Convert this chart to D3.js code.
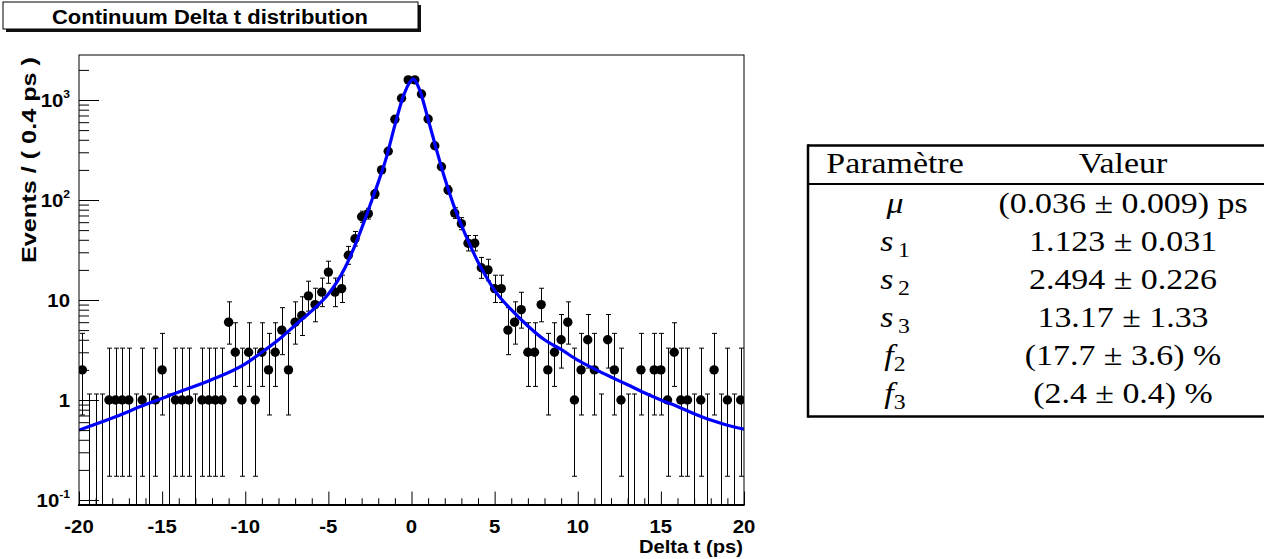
<!DOCTYPE html>
<html><head><meta charset="utf-8">
<script src="https://cdn.jsdelivr.net/npm/d3@7"></script>
<style>body{margin:0;background:#fff;} svg{display:block;}</style>
</head><body>
<svg id="chart" width="1264" height="559"></svg>
<script>
// ---------------- data ----------------
const binCenters = [
 -19.8,-19.4,-19.0,-18.6,-18.2,-17.8,-17.4,-17.0,-16.6,-16.2,
 -15.8,-15.4,-15.0,-14.6,-14.2,-13.8,-13.4,-13.0,-12.6,-12.2,
 -11.8,-11.4,-11.0,-10.6,-10.2,-9.8,-9.4,-9.0,-8.6,-8.2,
 -7.8,-7.4,-7.0,-6.6,-6.2,-5.8,-5.4,-5.0,-4.6,-4.2,
 -3.8,-3.4,-3.0,-2.6,-2.2,-1.8,-1.4,-1.0,-0.6,-0.2,
 0.2,0.6,1.0,1.4,1.8,2.2,2.6,3.0,3.4,3.8,
 4.2,4.6,5.0,5.4,5.8,6.2,6.6,7.0,7.4,7.8,
 8.2,8.6,9.0,9.4,9.8,10.2,10.6,11.0,11.4,11.8,
 12.2,12.6,13.0,13.4,13.8,14.2,14.6,15.0,15.4,15.8,
 16.2,16.6,17.0,17.4,17.8,18.2,18.6,19.0,19.4,19.8];
const counts = [
 2,0,0,0,1,1,1,1,0,1,
 0,1,2,0,1,1,1,0,1,1,
 1,1,6,3,1,3,1,3,2,3,
 5,2,6,7,11,9,12,19,12,13,
 28,41,68,73,115,200,307,641,1040,1590,
 1590,1148,646,349,215,126,74,58,37,37,
 21,20,13,13,5,6,8,3,3,9,
 2,3,4,6,1,2,4,2,0,4,
 2,1,0,0,2,0,2,2,1,3,
 1,1,0,1,0,2,0,1,0,1];
// fitted PDF projection
const curveX = [-20,-18,-16,-14,-12,-10,-9,-8,-7,-6,-5,-4.5,-4,-3.5,-3,-2.5,-2,-1.5,-1,-0.5,0,0.1,0.5,1,1.5,2,2.5,3,3.5,4,4.5,5,6,7,8,9,10,11,12,13,14,15,16,17,18,19,20];
const curveY = [0.50,0.66,0.90,1.2,1.6,2.3,3.0,4.0,5.6,7.8,11.5,15,21,32,52,88,150,270,560,1080,1580,1620,1250,640,320,165,92,56,36,24,17,12.5,8,5.5,4.0,3.2,2.5,2.05,1.7,1.42,1.18,1.0,0.86,0.73,0.63,0.56,0.51];

const xMajorTicks = [-20,-15,-10,-5,0,5,10,15,20];
const xTickLabels = ["-20","-15","-10","-5","0","5","10","15","20"];
const yMajorTicks = [0.1,1,10,100,1000];
const yTickBase = ["10","1","10","10","10"];
const yTickExp = ["-1","","","2","3"];

const title = "Continuum Delta t distribution";
const xTitle = "Delta t (ps)";
const yTitle = "Events / ( 0.4 ps )";

const tableHeader = ["Paramètre","Valeur"];
const paramSymbols = ["μ","s","s","s","f","f"];
const paramSubs = ["","1","2","3","2","3"];
const paramValues = ["(0.036 ± 0.009) ps","1.123 ± 0.031","2.494 ± 0.226","13.17 ± 1.33","(17.7 ± 3.6) %","(2.4 ± 0.4) %"];

// ---------------- layout ----------------
const svg = d3.select("#chart");
const L = 79, R = 744, T = 55, B = 505;
const x = d3.scaleLinear().domain([-20, 20]).range([L, R]);
const y = d3.scaleLog().domain([Math.pow(10,-1.05), Math.pow(10,3.45)]).range([B, T]);
const sansB = "'Liberation Sans', Arial, Helvetica, sans-serif";
const serif = "'Liberation Serif', 'Times New Roman', serif";
const SX = 1.1;   // horizontal glyph stretch of the original sans labels
const TSX = 1.13; // horizontal stretch for table text

// Poisson (Garwood) 68% interval used for error bars
function lgam(z){const g=7,c=[0.99999999999980993,676.5203681218851,-1259.1392167224028,771.32342877765313,-176.61502916214059,12.507343278686905,-0.13857109526572012,9.9843695780195716e-6,1.5056327351493116e-7];
 z-=1;let a=c[0];const t=z+g+0.5;for(let i=1;i<9;i++)a+=c[i]/(z+i);return 0.5*Math.log(2*Math.PI)+(z+0.5)*Math.log(t)-t+Math.log(a);}
function pcdf(n,mu){if(n<0)return 0;let s=0;const lm=Math.log(mu);for(let k=0;k<=n;k++)s+=Math.exp(k*lm-mu-lgam(k+1));return s;}
const alpha=0.158655;
function interval(n){
  if(n===0) return [0,1.148];
  let lo=0,hi=n; for(let i=0;i<60;i++){const m=(lo+hi)/2; if(pcdf(n-1,m)>1-alpha) lo=m; else hi=m;} const low=(lo+hi)/2;
  lo=n;hi=n+10*Math.sqrt(n+1)+10; for(let i=0;i<60;i++){const m=(lo+hi)/2; if(pcdf(n,m)>alpha) lo=m; else hi=m;} const up=(lo+hi)/2;
  return [low,up];
}
const pts = binCenters.map((c,i)=>{const [lo,hi]=interval(counts[i]);return {x:c,n:counts[i],lo,hi};});

// ---------------- title box ----------------
svg.append("rect").attr("x",6).attr("y",5).attr("width",415).attr("height",27).attr("fill","#111");
svg.append("rect").attr("x",3).attr("y",2).attr("width",415).attr("height",27).attr("fill","#fff").attr("stroke","#000").attr("stroke-width",1);
svg.append("text").attr("x",52).attr("y",24)
  .attr("font-family",sansB).attr("font-weight","bold").attr("font-size",19.5)
  .attr("textLength",316).attr("lengthAdjust","spacingAndGlyphs").attr("fill","#000").text(title);

// ---------------- plot ----------------
svg.append("defs").append("clipPath").attr("id","clip").append("rect")
  .attr("x",L).attr("y",T).attr("width",R-L).attr("height",B-T);
const plot = svg.append("g").attr("clip-path","url(#clip)");

// error bars
const eb = plot.append("g").attr("stroke","#000").attr("stroke-width",1);
pts.forEach(p=>{
  const px = Math.round(x(p.x))+0.5;
  const yTop = y(p.hi);
  const yBot = p.lo>0 ? y(p.lo) : B+5;
  eb.append("line").attr("x1",px).attr("x2",px).attr("y1",yTop).attr("y2",yBot);
  eb.append("line").attr("x1",px-2.5).attr("x2",px+2.5).attr("y1",yTop).attr("y2",yTop);
  if(p.lo>0) eb.append("line").attr("x1",px-2.5).attr("x2",px+2.5).attr("y1",yBot).attr("y2",yBot);
});
// markers
plot.append("g").selectAll("circle").data(pts.filter(p=>p.n>0)).join("circle")
  .attr("cx",d=>x(d.x)).attr("cy",d=>y(d.n)).attr("r",4.7).attr("fill","#000");
// curve
const curveData = curveX.map((v,i)=>[v,curveY[i]]);
plot.append("path").datum(curveData)
  .attr("d", d3.line().x(d=>x(d[0])).y(d=>y(d[1])).curve(d3.curveMonotoneX))
  .attr("fill","none").attr("stroke","#0000ff").attr("stroke-width",3.2);

// frame
svg.append("rect").attr("x",L).attr("y",T).attr("width",R-L).attr("height",B-T)
  .attr("fill","none").attr("stroke","#000").attr("stroke-width",1);
svg.append("line").attr("x1",L-1).attr("x2",R+0.5).attr("y1",B).attr("y2",B).attr("stroke","#000").attr("stroke-width",2);

// x axis ticks
const xMinor = d3.range(-20,21,1).filter(v=>v%5!==0);
const gx = svg.append("g").attr("transform",`translate(0,${B})`);
gx.call(d3.axisBottom(x).tickValues(xMajorTicks).tickSize(-13.5).tickFormat(""));
gx.append("g").call(d3.axisBottom(x).tickValues(xMinor).tickSize(-6.75).tickFormat(""));
gx.selectAll(".domain").remove();
gx.selectAll("line").attr("stroke","#000");
svg.append("g").selectAll("text").data(xMajorTicks).join("text")
  .attr("transform",d=>`translate(${x(d)},532.5) scale(${SX},1)`).attr("text-anchor","middle")
  .attr("font-family",sansB).attr("font-weight","bold").attr("font-size",18.5)
  .text((d,i)=>xTickLabels[i]);
svg.append("text").attr("x",639).attr("y",553)
  .attr("font-family",sansB).attr("font-weight","bold").attr("font-size",18)
  .attr("textLength",104).attr("lengthAdjust","spacingAndGlyphs").text(xTitle);

// y axis ticks
const yMinor = [];
for(let d=-2; d<=3; d++) for(let k=2;k<=9;k++){const v=k*Math.pow(10,d); if(v>=y.domain()[0]&&v<=y.domain()[1]) yMinor.push(v);}
const gy = svg.append("g").attr("transform",`translate(${L},0)`);
gy.call(d3.axisLeft(y).tickValues(yMajorTicks).tickSize(-20).tickFormat(""));
gy.append("g").call(d3.axisLeft(y).tickValues(yMinor).tickSize(-10).tickFormat(""));
gy.selectAll(".domain").remove();
gy.selectAll("line").attr("stroke","#000");
const yl = svg.append("g").selectAll("text").data(yMajorTicks).join("text")
  .attr("transform",d=>`translate(70,${y(d)+7}) scale(${SX},1)`).attr("text-anchor","end")
  .attr("font-family",sansB).attr("font-weight","bold").attr("font-size",18.5);
yl.append("tspan").text((d,i)=>yTickBase[i]);
yl.append("tspan").attr("dy",-9).attr("font-size",11).text((d,i)=>yTickExp[i]);
svg.append("text").attr("transform","translate(36,263) rotate(-90)")
  .attr("font-family",sansB).attr("font-weight","bold").attr("font-size",19.5)
  .attr("textLength",206).attr("lengthAdjust","spacingAndGlyphs").text(yTitle);

// ---------------- table ----------------
const tb = svg.append("g");
const tx0 = 808, ty0 = 145.5, ty1 = 416.5, tyh = 184;
tb.append("line").attr("x1",tx0).attr("x2",1270).attr("y1",ty0).attr("y2",ty0).attr("stroke","#000").attr("stroke-width",2.5);
tb.append("line").attr("x1",tx0).attr("x2",1270).attr("y1",ty1).attr("y2",ty1).attr("stroke","#000").attr("stroke-width",2.5);
tb.append("line").attr("x1",tx0).attr("x2",1270).attr("y1",tyh).attr("y2",tyh).attr("stroke","#000").attr("stroke-width",2);
tb.append("line").attr("x1",tx0).attr("x2",tx0).attr("y1",ty0-1.2).attr("y2",ty1+1.2).attr("stroke","#000").attr("stroke-width",2.5);
const colX = [895, 1123];
tb.selectAll("text.h").data(tableHeader).join("text").attr("class","h")
  .attr("transform",(d,i)=>`translate(${colX[i]},173) scale(${TSX},1)`).attr("text-anchor","middle")
  .attr("font-family",serif).attr("font-size",30).text(d=>d);
const rowY = [213,250.5,288.5,326.5,365,403];
const sym = tb.selectAll("text.s").data(paramSymbols).join("text").attr("class","s")
  .attr("transform",(d,i)=>`translate(${colX[0]},${rowY[i]}) scale(${TSX},1)`).attr("text-anchor","middle")
  .attr("font-family",serif).attr("font-size",30);
sym.append("tspan").attr("font-style","italic").text(d=>d);
sym.append("tspan").attr("dy",6).attr("dx",(d,i)=>paramSubs[i]?(i<4?4:0):0).attr("font-size",21).text((d,i)=>paramSubs[i]);
tb.selectAll("text.v").data(paramValues).join("text").attr("class","v")
  .attr("transform",(d,i)=>`translate(${colX[1]},${rowY[i]}) scale(${TSX},1)`).attr("text-anchor","middle")
  .attr("font-family",serif).attr("font-size",30).attr("xml:space","preserve").text(d=>d);
</script>
</body></html>
